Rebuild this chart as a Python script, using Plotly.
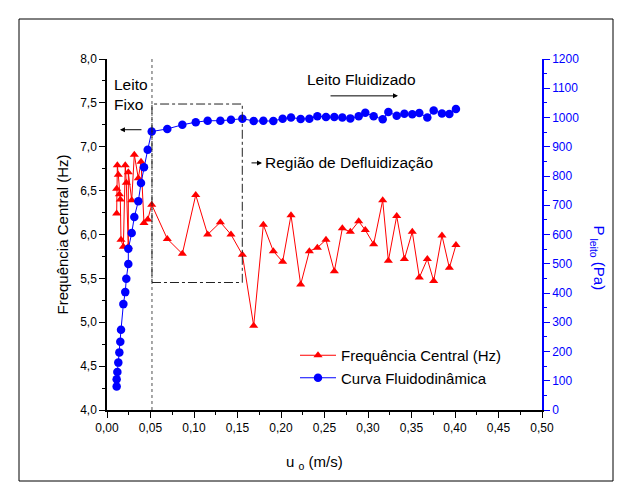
import plotly.graph_objects as go

# ---------------- data ----------------
u_velocity = [0.0111, 0.0111, 0.0119, 0.0130, 0.0142, 0.0153, 0.0161, 0.0188, 0.0210,
              0.0222, 0.0245, 0.0245, 0.0284, 0.0314, 0.0360, 0.0391, 0.0425, 0.0468,
              0.0514, 0.0693, 0.0866, 0.1020, 0.1157, 0.1303, 0.1425, 0.1556, 0.1686,
              0.1797, 0.1912, 0.2019, 0.2115, 0.2226, 0.2326, 0.2418, 0.2517, 0.2613,
              0.2705, 0.2797, 0.2893, 0.2969, 0.3065, 0.3169, 0.3234, 0.3330, 0.3418,
              0.3509, 0.3590, 0.3682, 0.3755, 0.3850, 0.3935, 0.4011]

freq_central = [6.24, 6.52, 6.79, 6.68, 6.46, 6.40, 5.94, 5.86, 6.79,
                6.59, 5.86, 6.71, 6.39, 6.91, 6.64, 6.83, 6.13, 6.17,
                6.34, 5.95, 5.78, 6.45, 6.00, 6.14, 6.00, 5.77, 4.96,
                6.11, 5.81, 5.69, 6.22, 5.43, 5.81, 5.85, 5.94, 5.58,
                6.07, 6.03, 6.15, 6.05, 5.89, 6.39, 5.70, 6.21, 5.72,
                6.03, 5.51, 5.72, 5.47, 5.99, 5.62, 5.88]

p_leito = [80, 105, 130, 162, 197, 233, 274, 362, 403,
           449, 499, 551, 605, 660, 714, 776, 830, 890,
           952, 961, 975, 984, 989, 989, 992, 996, 988,
           989, 988, 996, 1000, 995, 996, 1004, 1002, 1002,
           1000, 997, 1004, 1016, 1004, 994, 1019, 1006, 1013,
           1011, 1015, 1000, 1024, 1014, 1012, 1029]

x_ticks = [0.0, 0.05, 0.10, 0.15, 0.20, 0.25, 0.30, 0.35, 0.40, 0.45, 0.50]
x_tick_labels = ["0,00", "0,05", "0,10", "0,15", "0,20", "0,25", "0,30", "0,35", "0,40", "0,45", "0,50"]
y_ticks = [4.0, 4.5, 5.0, 5.5, 6.0, 6.5, 7.0, 7.5, 8.0]
y_tick_labels = ["4,0", "4,5", "5,0", "5,5", "6,0", "6,5", "7,0", "7,5", "8,0"]
p_ticks = [0, 100, 200, 300, 400, 500, 600, 700, 800, 900, 1000, 1100, 1200]
p_tick_labels = [str(v) for v in p_ticks]

# annotation geometry (data coords)
u_defluid = 0.0517
box_x = [0.0517, 0.1555]
box_y = [5.453, 7.487]

FONT = "Arial, Liberation Sans, Helvetica, sans-serif"
RED = "#FF0000"
BLUE = "#0000FF"

fig = go.Figure()

fig.add_trace(go.Scatter(
    x=u_velocity, y=freq_central, mode="lines+markers",
    name="Frequência Central (Hz)",
    line=dict(color=RED, width=1),
    marker=dict(symbol="triangle-up", size=8, color=RED),
    xaxis="x", yaxis="y"))

fig.add_trace(go.Scatter(
    x=u_velocity, y=p_leito, mode="lines+markers",
    name="Curva Fluidodinâmica",
    line=dict(color=BLUE, width=1),
    marker=dict(symbol="circle", size=8.5, color=BLUE),
    xaxis="x", yaxis="y2"))

fig.update_layout(
    width=632, height=498,
    margin=dict(l=107, r=90, t=59, b=88),
    paper_bgcolor="white", plot_bgcolor="white",
    font=dict(family=FONT, size=12, color="black"),
    showlegend=True,
    legend=dict(x=(295 - 107) / 435, y=(410 - 339) / 351, xanchor="left", yanchor="top",
                bgcolor="rgba(0,0,0,0)", font=dict(size=15, family=FONT),
                itemwidth=36, tracegroupgap=0),
    xaxis=dict(range=[0, 0.5], tickmode="array", tickvals=x_ticks, ticktext=x_tick_labels,
               ticks="outside", ticklen=6, tickwidth=1, tickcolor="black",
               minor=dict(tick0=0, dtick=0.025, ticks="outside", ticklen=3, tickcolor="black"),
               showline=True, linecolor="black", linewidth=1.5,
               showgrid=False, zeroline=False, tickfont=dict(size=12)),
    xaxis3=dict(range=[0, 0.5], overlaying="x", side="top", tickmode="array",
                tickvals=x_ticks, showticklabels=False,
                ticks="inside", ticklen=6, tickwidth=1, tickcolor="black",
                minor=dict(tick0=0, dtick=0.025, ticks="inside", ticklen=3, tickcolor="black"),
                showline=True, linecolor="black", linewidth=1.5,
                showgrid=False, zeroline=False),
    yaxis=dict(range=[4, 8], tickmode="array", tickvals=y_ticks, ticktext=y_tick_labels,
               ticks="outside", ticklen=6, tickwidth=1, tickcolor="black",
               minor=dict(tick0=4, dtick=0.25, ticks="outside", ticklen=3, tickcolor="black"),
               showline=True, linecolor="black", linewidth=1.5,
               showgrid=False, zeroline=False, tickfont=dict(size=12)),
    yaxis2=dict(range=[0, 1200], overlaying="y", side="right", anchor="x",
                tickmode="array", tickvals=p_ticks, ticktext=p_tick_labels,
                ticks="outside", ticklen=6, tickwidth=1, tickcolor=BLUE,
                minor=dict(tick0=0, dtick=50, ticks="outside", ticklen=3, tickcolor=BLUE),
                showline=True, linecolor=BLUE, linewidth=1.5,
                showgrid=False, zeroline=False, tickfont=dict(size=12, color=BLUE)),
)

# outer frame
fig.add_shape(type="rect", xref="paper", yref="paper",
              x0=(19 - 107) / 435, x1=(613 - 107) / 435,
              y0=(410 - 481) / 351, y1=(410 - 19) / 351,
              line=dict(color="black", width=1))
# vertical dotted line
fig.add_shape(type="line", xref="x", yref="y", x0=u_defluid, x1=u_defluid, y0=4, y1=8,
              line=dict(color="#222222", width=0.8, dash="dot"))
# defluidization box
fig.add_shape(type="rect", xref="x", yref="y", x0=box_x[0], x1=box_x[1], y0=box_y[0], y1=box_y[1],
              line=dict(color="#222222", width=1, dash="dashdot"))

# axis titles
fig.add_annotation(xref="paper", yref="paper", x=(52 - 107) / 435, y=(410 - 235) / 351,
                   text="Frequência Central (Hz)", textangle=-90, showarrow=False,
                   font=dict(size=15, family=FONT))
fig.add_annotation(xref="paper", yref="paper", x=(314 - 107) / 435, y=(410 - 474) / 351,
                   text="u <sub>o</sub> (m/s)", showarrow=False,
                   font=dict(size=15, family=FONT))
fig.add_annotation(xref="paper", yref="paper", x=(610 - 107) / 435, y=(410 - 258) / 351,
                   text="P<sub> leito</sub> (Pa)", textangle=90, showarrow=False,
                   font=dict(size=15, family=FONT, color=BLUE))

# text labels
fig.add_annotation(xref="x", yref="y", x=0.0057, y=7.6, xanchor="left", align="left",
                   text="Leito<br>Fixo", showarrow=False, font=dict(size=15.5, family=FONT))
fig.add_annotation(xref="x", yref="y", x=0.293, y=7.764, text="Leito Fluidizado",
                   showarrow=False, font=dict(size=15.5, family=FONT))
fig.add_annotation(xref="x", yref="y", x=(263 - 107) / 870, y=6.816, xanchor="left",
                   text="Região de Defluidização", showarrow=False,
                   font=dict(size=15.5, family=FONT))

# arrows
fig.add_annotation(xref="x", yref="y", x=0.0149, y=7.194, ax=23, ay=0, text="",
                   showarrow=True, arrowhead=2, arrowsize=1, arrowwidth=1, arrowcolor="black")
fig.add_annotation(xref="x", yref="y", x=0.3345, y=7.58, ax=-69, ay=0, text="",
                   showarrow=True, arrowhead=2, arrowsize=1, arrowwidth=1, arrowcolor="black")
fig.add_annotation(xref="x", yref="y", x=(262 - 107) / 870, y=6.816, ax=-12, ay=0, text="",
                   showarrow=True, arrowhead=2, arrowsize=1, arrowwidth=1, arrowcolor="black")

fig.write_html("out.html")
